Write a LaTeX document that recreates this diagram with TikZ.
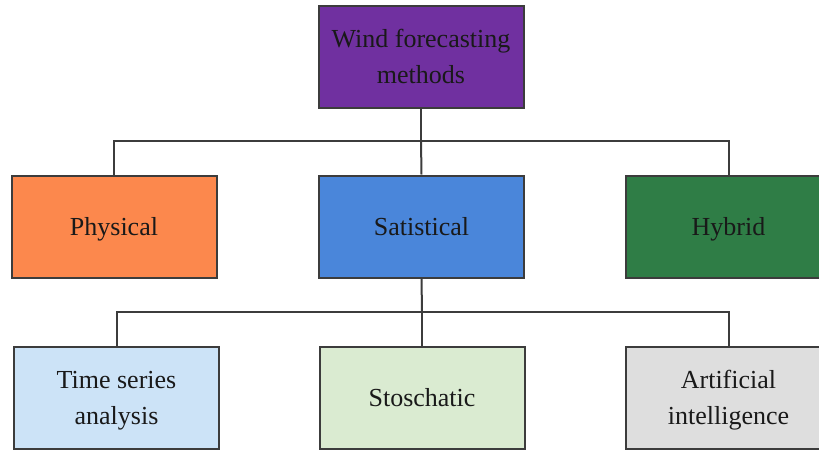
\documentclass[tikz,border=0pt]{standalone}
\usepackage{fontspec}
\setmainfont{Liberation Serif}
\definecolor{cpurple}{HTML}{7030A0}
\definecolor{corange}{HTML}{FC884D}
\definecolor{cblue}{HTML}{4A86DA}
\definecolor{cgreen}{HTML}{2F7D46}
\definecolor{clblue}{HTML}{CCE3F7}
\definecolor{clgreen}{HTML}{DAEBD1}
\definecolor{cgray}{HTML}{DEDEDE}
\definecolor{cedge}{HTML}{3C3C3C}
% line strut: height 26pt, depth 9pt
\newcommand\lnstrut{\rule[-9pt]{0pt}{35pt}}
\begin{document}
\begin{tikzpicture}[x=1pt,y=-1pt,
  box/.style={draw=cedge,line width=2pt,minimum width=205pt,minimum height=102pt,
    inner sep=0pt,align=center,font=\fontsize{26}{36}\selectfont,text=black!90},
  link/.style={draw=cedge,line width=2pt}]
\useasboundingbox (0,0) rectangle (819,450);
\clip (0,0) rectangle (819,450);
% root
\node[box,fill=cpurple] (top) at (421,56.5) {\lnstrut Wind forecasting\\\lnstrut methods};
% first level
\node[box,fill=corange] (phys) at (114,226.5) {\lnstrut Physical};
\node[box,fill=cblue] (stat) at (421.5,226.5) {\lnstrut Satistical};
\node[box,fill=cgreen] (hyb) at (728.5,226.5) {\lnstrut Hybrid};
% statistical sub-methods
\node[box,fill=clblue] (ts) at (116.5,397.5) {\lnstrut Time series\\\lnstrut analysis};
\node[box,fill=clgreen] (sto) at (422,397.5) {\lnstrut Stoschatic};
\node[box,fill=cgray] (ai) at (728.5,397.5) {\lnstrut Artificial\\\lnstrut intelligence};
% connectors
\coordinate (j1) at (421,141);
\coordinate (j2) at (422,312);
\draw[link] (top.south) -- (j1);
\draw[link] (j1) -| (phys.north);
\draw[link] (j1) -| (hyb.north);
\draw[link] (j1) -- (stat.north);
\draw[link] (stat.south) -- (j2);
\draw[link] (j2) -| (ts.north);
\draw[link] (j2) -| (ai.north);
\draw[link] (j2) -- (sto.north);
\end{tikzpicture}
\end{document}
